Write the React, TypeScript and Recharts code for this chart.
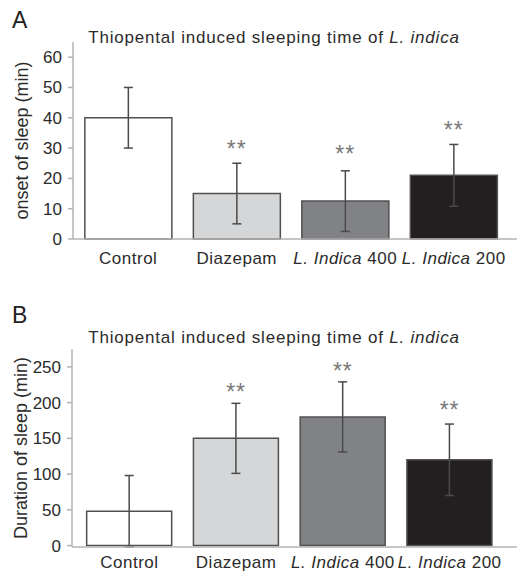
import { ComposedChart, Bar, Scatter, XAxis, YAxis, ErrorBar, Cell } from 'recharts'

const groups = ['Control', 'Diazepam', 'L. Indica 400', 'L. Indica 200']
const barColors = ['#ffffff', '#d5d6d8', '#818286', '#231f20']

// panel A: onset of sleep (min)
const onsetMean = [40, 15, 12.5, 21]
const onsetErr = [10, 10, 10, 10.2]
const onsetStars = [null, 31.4, 29.8, 37.5]
const onsetTicks = [0, 10, 20, 30, 40, 50, 60]

// panel B: duration of sleep (min)
const durationMean = [48, 150, 180, 120]
const durationErr = [50, 49, 49, 50]
const durationStars = [null, 222, 251, 197]
const durationTicks = [0, 50, 100, 150, 200, 250]

const FONT = '"Liberation Sans", Arial, sans-serif'
const AXIS = '#b3b3b3'

function GroupTick({ x, y, payload, gap }: any) {
  const label: string = payload.value
  const m = label.match(/^(L\. Indica)( \d+)$/)
  return (
    <text
      x={x}
      y={y + gap}
      dy="0.35em"
      textAnchor="middle"
      fill="#2b2b2b"
      fontSize={17}
      fontFamily={FONT}
      letterSpacing={0.5}
      style={{ whiteSpace: 'pre' }}
    >
      {m ? (
        <>
          <tspan fontStyle="italic">{m[1]}</tspan>
          <tspan>{m[2]}</tspan>
        </>
      ) : (
        label
      )}
    </text>
  )
}

function Stars(props: any) {
  if (props.payload?.star == null) return <g />
  return (
    <text
      x={props.cx}
      y={props.cy + 13}
      textAnchor="middle"
      fill="#7a7a7a"
      fontSize={23}
      fontFamily={FONT}
      letterSpacing={1}
    >
      **
    </text>
  )
}

type PanelProps = {
  means: number[]
  errs: number[]
  stars: (number | null)[]
  ticks: number[]
  max: number
  yLabel: string
  height: number
  top: number
  bottom: number
  yWidth: number
  padL: number
  padR: number
  labelGap: number
}

function Panel(p: PanelProps) {
  const data = groups.map((g, i) => ({ group: g, mean: p.means[i], err: p.errs[i], star: p.stars[i] }))
  return (
    <ComposedChart
      width={517}
      height={p.height}
      data={data}
      margin={{ top: p.top, right: 0, bottom: p.bottom, left: 0 }}
      barCategoryGap="10%"
    >
      <XAxis
        dataKey="group"
        height={20}
        tick={<GroupTick gap={p.labelGap} />}
        tickLine={false}
        tickSize={0}
        axisLine={{ stroke: AXIS, strokeWidth: 1.5 }}
        padding={{ left: p.padL, right: p.padR }}
        interval={0}
      />
      <YAxis
        width={p.yWidth}
        domain={[0, p.max]}
        ticks={p.ticks}
        tickSize={5}
        tickMargin={6}
        axisLine={{ stroke: AXIS, strokeWidth: 1.5 }}
        tickLine={{ stroke: AXIS, strokeWidth: 1.5 }}
        tick={{ fill: '#2b2b2b', fontSize: 17, fontFamily: FONT }}
        label={{
          value: p.yLabel,
          angle: -90,
          position: 'center',
          dx: -15,
          fill: '#2b2b2b',
          fontSize: 18,
          fontFamily: FONT,
        }}
      />
      <Bar dataKey="mean" stroke="#505050" strokeWidth={1.5} isAnimationActive={false}>
        {data.map((d, i) => (
          <Cell key={`cell-${i}`} fill={barColors[i]} />
        ))}
        <ErrorBar dataKey="err" width={4.5} stroke="#4a4a4a" strokeWidth={1.5} />
      </Bar>
      <Scatter dataKey="star" shape={<Stars />} isAnimationActive={false} />
    </ComposedChart>
  )
}

const letterStyle: React.CSSProperties = {
  position: 'absolute',
  left: 12,
  fontSize: 23,
  lineHeight: '24px',
  color: '#222',
  fontFamily: FONT,
}

const titleStyle: React.CSSProperties = {
  position: 'absolute',
  left: 0,
  width: 548,
  textAlign: 'center',
  fontSize: 17,
  lineHeight: '20px',
  letterSpacing: 0.8,
  color: '#2b2b2b',
  fontFamily: FONT,
}

export default function App() {
  return (
    <div style={{ position: 'absolute', left: 0, top: 0, width: 517, height: 572, background: '#fff', overflow: 'hidden' }}>
      <div style={{ position: 'absolute', left: 0, top: 0 }}>
        <Panel
          means={onsetMean}
          errs={onsetErr}
          stars={onsetStars}
          ticks={onsetTicks}
          max={65}
          yLabel="onset of sleep (min)"
          height={290}
          top={42}
          bottom={31}
          yWidth={73}
          padL={1}
          padR={9}
          labelGap={17}
        />
      </div>
      <div style={{ position: 'absolute', left: 0, top: 290 }}>
        <Panel
          means={durationMean}
          errs={durationErr}
          stars={durationStars}
          ticks={durationTicks}
          max={275}
          yLabel="Duration of sleep (min)"
          height={282}
          top={59}
          bottom={5}
          yWidth={72}
          padL={4}
          padR={14}
          labelGap={13}
        />
      </div>
      <div style={{ ...letterStyle, top: 8 }}>A</div>
      <div style={{ ...letterStyle, top: 303 }}>B</div>
      <div style={{ ...titleStyle, top: 28 }}>
        Thiopental induced sleeping time of <i>L. indica</i>
      </div>
      <div style={{ ...titleStyle, top: 328 }}>
        Thiopental induced sleeping time of <i>L. indica</i>
      </div>
    </div>
  )
}
